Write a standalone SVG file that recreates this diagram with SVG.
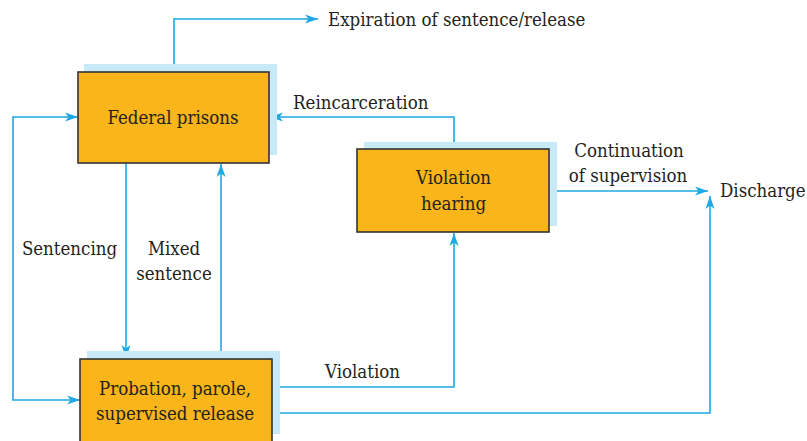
<svg xmlns="http://www.w3.org/2000/svg" width="807" height="441" viewBox="0 0 807 441">
<style>
.shadow{fill:#C8E9F8}
.box{fill:#F9B519;stroke:#333;stroke-width:1.6}
.t{font-family:'DejaVu Serif Condensed','DejaVu Serif',serif;font-stretch:condensed;font-size:18.5px;fill:#231F20}
.m{text-anchor:middle}
.c{fill:none;stroke:#1EA8E4;stroke-width:1.6}
</style>
<defs>
<marker id="ah" markerUnits="userSpaceOnUse" markerWidth="14" markerHeight="10" refX="13" refY="5" orient="auto-start-reverse" viewBox="0 0 14 10">
<path d="M0,0.5 L13,5 L0,9.5 L3.5,5 Z" fill="#1EA8E4"/>
</marker>
</defs>
<g id="connectors">
<path class="c" d="M174,72 V19 H318" marker-end="url(#ah)"/>
<path class="c" d="M454,149 V117 H270" marker-end="url(#ah)"/>
<path class="c" d="M549,191 H708" marker-end="url(#ah)"/>
<path class="c" d="M272,413 H710 V196" marker-end="url(#ah)"/>
<path class="c" d="M272,387 H454 V233" marker-end="url(#ah)"/>
<path class="c" d="M78,117 H13 V400 H80" marker-start="url(#ah)" marker-end="url(#ah)"/>
<path class="c" d="M126,163 V358" marker-end="url(#ah)"/>
<path class="c" d="M221,359 V164" marker-end="url(#ah)"/>
</g>
<g id="federal-prisons">
<rect class="shadow" x="84" y="64" width="193" height="91"/>
<rect class="box" x="78" y="72" width="191" height="91"/>
<text class="t m" x="173" y="124">Federal prisons</text>
</g>
<g id="violation-hearing">
<rect class="shadow" x="364" y="142" width="193" height="84"/>
<rect class="box" x="357" y="149" width="192" height="83"/>
<text class="t m" x="453.5" y="184">Violation</text>
<text class="t m" x="453.5" y="210">hearing</text>
</g>
<g id="probation">
<rect class="shadow" x="87" y="351" width="193" height="83"/>
<rect class="box" x="80" y="359" width="192" height="84"/>
<text class="t m" x="175" y="395">Probation, parole,</text>
<text class="t m" x="175" y="420">supervised release</text>
</g>
<g id="labels">
<text class="t" x="328" y="26">Expiration of sentence/release</text>
<text class="t" x="293" y="109">Reincarceration</text>
<text class="t m" x="629" y="157">Continuation</text>
<text class="t m" x="628" y="182">of supervision</text>
<text class="t" x="720" y="197">Discharge</text>
<text class="t m" x="69.5" y="255">Sentencing</text>
<text class="t m" x="174" y="255">Mixed</text>
<text class="t m" x="174" y="280">sentence</text>
<text class="t" x="325" y="378">Violation</text>
</g>
</svg>
